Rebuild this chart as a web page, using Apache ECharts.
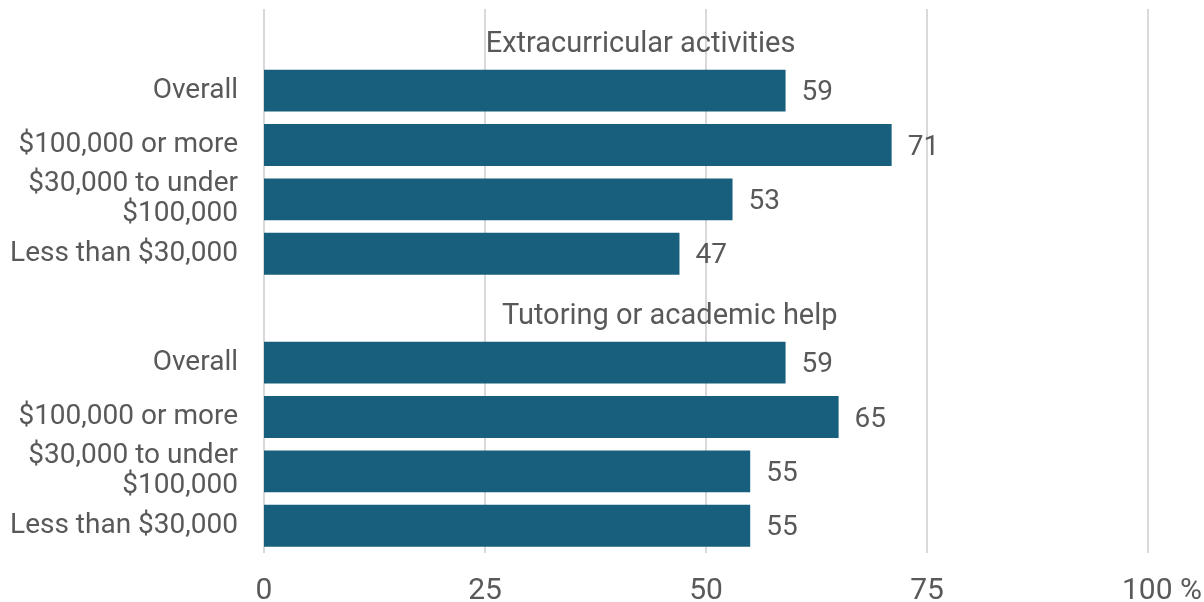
<!DOCTYPE html>
<html><head><meta charset="utf-8">
<script src="https://cdn.jsdelivr.net/npm/echarts@6/dist/echarts.min.js"></script>
<style>html,body{margin:0;padding:0;background:#fff}#c{width:1204px;height:602px}</style>
</head><body><div id="c"></div>
<script>
const categories = ['', 'Overall', '$100,000 or more', '$30,000 to under\n$100,000', 'Less than $30,000',
                    '', 'Overall', '$100,000 or more', '$30,000 to under\n$100,000', 'Less than $30,000'];
const values = [null, 59, 71, 53, 47, null, 59, 65, 55, 55];
const groupHeaders = ['Extracurricular activities', 'Tutoring or academic help'];
const headerRows = [0, 5];
const headerCenters = [42.6, 45.9];
const tickLabels = {0: '0', 25: '25', 50: '50', 75: '75', 100: '100 %'};

const chart = echarts.init(document.getElementById('c'));
chart.setOption({
  animation: false,
  grid: {left: 264, right: 56, top: 9, bottom: 49, containLabel: false, outerBoundsMode: 'none'},
  xAxis: {
    type: 'value', min: 0, max: 100, interval: 25,
    axisLine: {show: false}, axisTick: {show: false},
    splitLine: {show: true, lineStyle: {color: '#d9d9d9', width: 2}},
    axisLabel: {
      color: '#595959', fontFamily: 'Liberation Sans Narrow, Roboto, sans-serif', fontSize: 30,
      margin: 23,
      formatter: v => v === 100 ? '{p|' + tickLabels[v] + '}' : (tickLabels[v] !== undefined ? tickLabels[v] : ''),
      rich: {p: {color: '#595959', fontFamily: 'Liberation Sans Narrow, Roboto, sans-serif', fontSize: 30, padding: [0, 0, 0, 28]}}
    }
  },
  yAxis: {
    type: 'category', inverse: true, data: categories,
    axisLine: {show: false}, axisTick: {show: false}, splitLine: {show: false},
    axisLabel: {color: '#595959', fontFamily: 'Roboto, sans-serif', fontSize: 28, lineHeight: 30, margin: 26, interval: 0,
      padding: [5, 0, 0, 0]}
  },
  series: [
    {
      type: 'bar', data: values, barCategoryGap: '23%',
      itemStyle: {color: '#185e7d'},
      label: {show: true, position: 'right', distance: 16, offset: [0, 2.5], color: '#595959', fontFamily: 'Roboto, sans-serif', fontSize: 28}
    },
    {
      type: 'scatter', symbolSize: 0, itemStyle: {opacity: 1},
      data: headerRows.map((r, i) => ({value: [headerCenters[i], r], name: groupHeaders[i]})),
      label: {show: true, position: 'inside', offset: [0, 9], formatter: p => p.name,
        color: '#595959', fontFamily: 'Roboto, sans-serif', fontSize: 29}
    }
  ]
});
</script>
</body></html>
